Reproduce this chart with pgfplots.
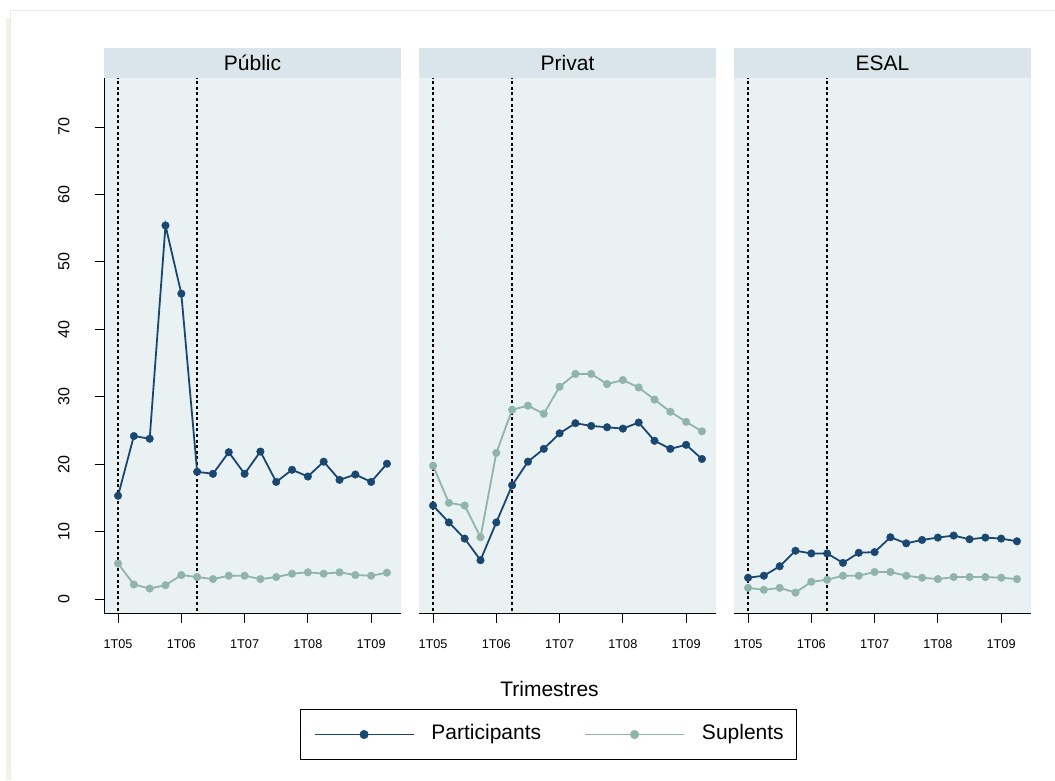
\documentclass[border=0pt]{standalone}
\usepackage{fontspec}
\setmainfont{Liberation Sans}
\usepackage{pgfplots}
\pgfplotsset{compat=1.18}
\usepackage{pgfplotstable}

\definecolor{partc}{RGB}{26,71,111}
\definecolor{supc}{RGB}{145,180,170}
\definecolor{plotbg}{RGB}{233,241,243}
\definecolor{hdrbg}{RGB}{217,229,235}
\definecolor{framec}{RGB}{230,236,230}
\definecolor{shadowc}{RGB}{240,246,230}

% quarters 0 = 1T05 ... 17 = 2T09
\pgfplotstableread{
t  pub_p pub_s priv_p priv_s esal_p esal_s
0  15.35 5.3   13.9  19.8   3.2   1.7
1  24.2  2.2   11.4  14.3   3.5   1.4
2  23.8  1.6   9.0   13.9   4.9   1.7
3  55.4  2.1   5.8   9.2    7.2   1.0
4  45.3  3.6   11.4  21.7   6.8   2.6
5  18.9  3.3   16.9  28.1   6.8   2.9
6  18.6  3.0   20.4  28.7   5.4   3.5
7  21.8  3.5   22.3  27.5   6.9   3.5
8  18.6  3.5   24.6  31.5   7.0   4.05
9  21.9  3.0   26.1  33.4   9.2   4.05
10 17.4  3.3   25.7  33.4   8.3   3.5
11 19.2  3.8   25.5  31.9   8.8   3.2
12 18.2  4.0   25.3  32.5   9.15  3.0
13 20.4  3.8   26.2  31.4   9.45  3.3
14 17.7  4.0   23.5  29.6   8.9   3.3
15 18.5  3.6   22.3  27.8   9.15  3.3
16 17.4  3.5   22.9  26.3   9.0   3.2
17 20.1  3.95  20.8  24.9   8.6   3.0
}\data

\pgfplotsset{
  panel/.style={
    scale only axis, width=297pt, height=535.7pt,
    anchor=south west,
    xmin=-0.888, xmax=17.888, ymin=-2.13, ymax=77.26,
    axis background/.style={fill=plotbg},
    xtick={0,4,8,12,16}, xticklabels={1T05,1T06,1T07,1T08,1T09},
    ytick={0,10,...,70},
    tick align=outside, major tick length=9pt,
    axis x line*=bottom,
    axis line style={line width=0.9pt, black, -},
    tick style={line width=0.9pt, black},
    xticklabel style={font=\fontsize{12.7}{13}\selectfont, yshift=-13pt},
    /pgf/number format/assume math mode=true,
    every axis title/.style={at={(0.5,1)}, anchor=south, fill=hdrbg,
      minimum width=297pt, minimum height=30pt, inner sep=0pt,
      text height=15pt, text depth=0pt, font=\fontsize{21}{21}\selectfont},
    legend image code/.code={\draw[mark repeat=2,mark phase=2,##1,line width=1.8pt,mark size=4.3pt]
      plot coordinates {(0pt,0pt) (49.5pt,0pt) (99pt,0pt)};},
  },
  vline/.style={black, line width=1.5pt, dash pattern=on 3pt off 2.6pt, forget plot},
  sp/.style={partc, line width=1.8pt, mark=*, mark size=3.8pt,
    mark options={solid, line width=0.4pt, fill=partc}},
  ss/.style={supc, line width=1.8pt, mark=*, mark size=3.8pt,
    mark options={solid, line width=0.4pt, fill=supc}},
}

\begin{document}
\begin{tikzpicture}
\path[use as bounding box] (0,0) rectangle (1055pt,780pt);
\fill[white] (0,0) rectangle (1055pt,780pt);
\fill[shadowc] (6pt,0) rectangle (10pt,762pt);
\draw[framec, line width=1pt] (1055pt,769pt) -- (10pt,769pt) -- (10pt,0pt);

\begin{axis}[panel, at={(104pt,166.3pt)}, title={Públic},
  axis y line*=left,
  yticklabel style={rotate=90, anchor=south, font=\fontsize{16}{16}\selectfont, yshift=22pt}]
\addplot[vline] coordinates {(0,-5) (0,80)};
\addplot[vline] coordinates {(5,-5) (5,80)};
\addplot[sp] table[x=t, y=pub_p] {\data};
\addplot[ss] table[x=t, y=pub_s] {\data};
\end{axis}

\begin{axis}[panel, at={(419pt,166.3pt)}, title={Privat},
  axis y line=none, ytick=\empty,
  legend columns=2,
  legend style={at={(0.4367,-0.2255)}, anchor=center, draw=black, line width=0.9pt,
    inner xsep=13pt, inner ysep=15pt,
    font=\fontsize{21}{21}\selectfont,
    nodes={inner sep=0pt, text height=15pt, text depth=4.5pt},
    /tikz/every odd column/.append style={column sep=17pt},
    /tikz/every even column/.append style={column sep=43pt}}]
\addplot[vline] coordinates {(0,-5) (0,80)};
\addplot[vline] coordinates {(5,-5) (5,80)};
\addplot[sp] table[x=t, y=priv_p] {\data};
\addplot[ss] table[x=t, y=priv_s] {\data};
\legend{Participants, Suplents}
\end{axis}

\begin{axis}[panel, at={(734pt,166.3pt)}, title={ESAL},
  axis y line=none, ytick=\empty]
\addplot[vline] coordinates {(0,-5) (0,80)};
\addplot[vline] coordinates {(5,-5) (5,80)};
\addplot[sp] table[x=t, y=esal_p] {\data};
\addplot[ss] table[x=t, y=esal_s] {\data};
\end{axis}

\node[anchor=base, font=\fontsize{21}{21}\selectfont, inner sep=0pt] at (549.5pt,84pt) {Trimestres};
\end{tikzpicture}
\end{document}
